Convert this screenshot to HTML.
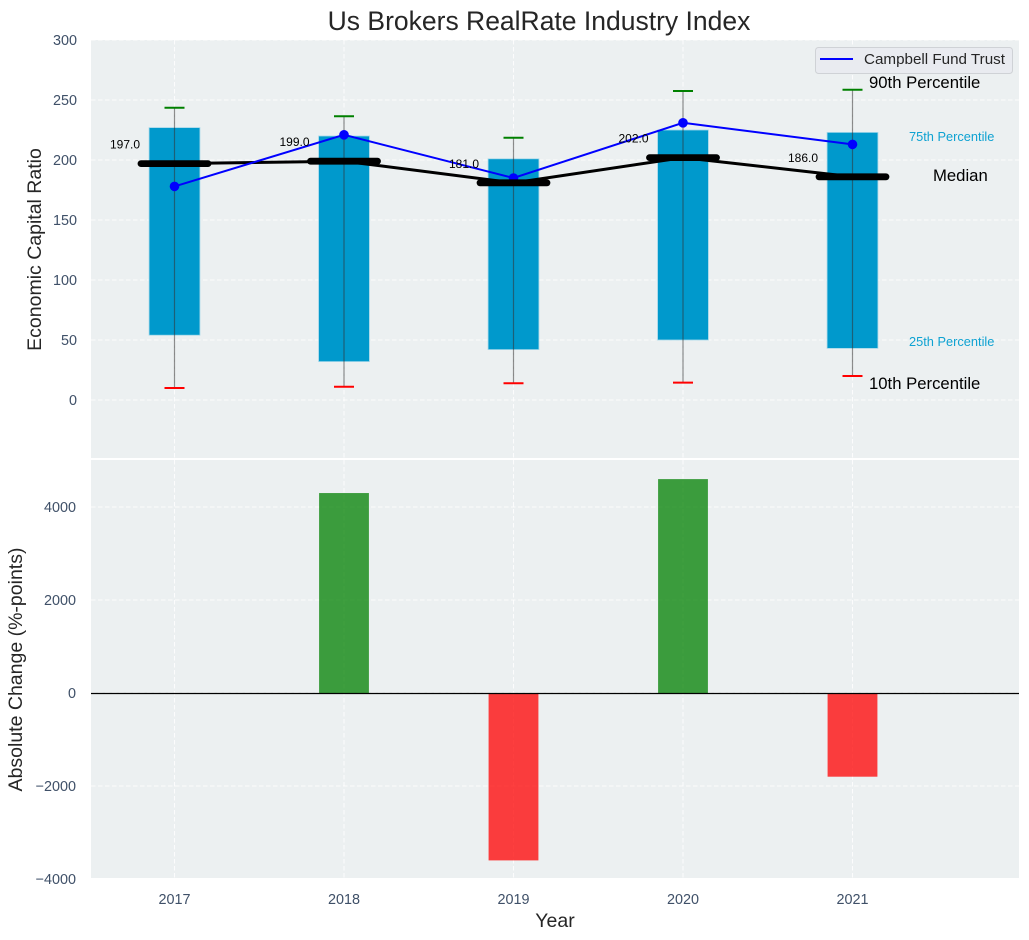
<!DOCTYPE html>
<html lang="en">
<head>
<meta charset="utf-8">
<title>Us Brokers RealRate Industry Index</title>
<style>
html,body{margin:0;padding:0;background:#fff;}
svg{display:block;font-family:"Liberation Sans",sans-serif;}
</style>
</head>
<body>
<svg id="chart" xmlns="http://www.w3.org/2000/svg" width="1029" height="940" viewBox="0 0 1029 940">
<rect x="91" y="40" width="928" height="418" fill="#ecf0f1"/>
<rect x="91" y="460" width="928" height="418" fill="#ecf0f1"/>
<text x="539" y="30" font-size="26.5" text-anchor="middle" fill="#262626">Us Brokers RealRate Industry Index</text>
<text transform="translate(41,249.5) rotate(-90)" font-size="19.5" text-anchor="middle" fill="#262626">Economic Capital Ratio</text>
<text transform="translate(22,669.5) rotate(-90)" font-size="19.5" text-anchor="middle" fill="#262626">Absolute Change (%-points)</text>
<text x="555" y="927" font-size="19.5" text-anchor="middle" fill="#262626">Year</text>
<g id="marks"></g>
<g>
<rect x="815.5" y="47.5" width="197" height="26" rx="3" fill="#e9ebf0" stroke="#cfd2d6" stroke-width="1"/>
<line x1="820" y1="59" x2="853" y2="59" stroke="#0000ff" stroke-width="2"/>
<text x="864" y="64" font-size="15.2" fill="#262626">Campbell Fund Trust</text>
</g>
<text x="869" y="88" font-size="16.7" fill="#000">90th Percentile</text>
<text x="909" y="141" font-size="12.8" fill="#0ea2d2">75th Percentile</text>
<text x="933" y="181" font-size="16.7" fill="#000">Median</text>
<text x="909" y="346" font-size="12.8" fill="#0ea2d2">25th Percentile</text>
<text x="869" y="389" font-size="16.7" fill="#000">10th Percentile</text>
</svg>
<script>
const years = [2017, 2018, 2019, 2020, 2021];
const p90 = [243.5, 236.5, 218.5, 257.5, 258.5];
const p75 = [227, 220, 201, 225, 223];
const median = [197, 199, 181, 202, 186];
const p25 = [54, 32, 42, 50, 43];
const p10 = [10, 11, 14, 14.5, 20];
const campbell = [178, 221, 185, 231, 213];
const absChange = [0, 4300, -3600, 4600, -1800];
const topTicks = [0, 50, 100, 150, 200, 250, 300];
const bottomTicks = [-4000, -2000, 0, 2000, 4000];

const NS = 'http://www.w3.org/2000/svg';
const marks = document.getElementById('marks');
function xScale(v) { return 174.5 + (v - 2017) * 169.5; }
function yTop(v) { return 400 - v * 1.2; }
function yBottom(v) { return 693 - v * 0.0465; }
function make(tag, attrs, text) {
  const n = document.createElementNS(NS, tag);
  for (const k in attrs) n.setAttribute(k, attrs[k]);
  if (text !== undefined) n.textContent = text;
  marks.appendChild(n);
  return n;
}
const gridStyle = { stroke: '#ffffff', 'stroke-width': 1.1, 'stroke-dasharray': '4.5 2.5', opacity: 0.85 };

topTicks.forEach(function (t) {
  const g = make('line', Object.assign({ x1: 91, x2: 1019, y1: yTop(t), y2: yTop(t) }, gridStyle));
  
  
  const l = make('text', { x: 77, y: yTop(t) + 5, 'font-size': 14.4, 'text-anchor': 'end', fill: '#3f5068' }, String(t));
  
  
});
bottomTicks.forEach(function (t) {
  const g = make('line', Object.assign({ x1: 91, x2: 1019, y1: yBottom(t), y2: yBottom(t) }, gridStyle));
  
  
  const l = make('text', { x: 76, y: yBottom(t) + 5, 'font-size': 14.4, 'text-anchor': 'end', fill: '#3f5068' }, String(t).replace('-', '\u2212'));
  
  
});
years.forEach(function (y) {
  const g1 = make('line', Object.assign({ x1: xScale(y), x2: xScale(y), y1: 40, y2: 458 }, gridStyle));
  
  
  const g2 = make('line', Object.assign({ x1: xScale(y), x2: xScale(y), y1: 460, y2: 878 }, gridStyle));
  
  
  const l = make('text', { x: xScale(y), y: 904, 'font-size': 14.4, 'text-anchor': 'middle', fill: '#3f5068' }, String(y));
  
  
});

years.forEach(function (y, i) {
  const bar = make('rect', { x: xScale(y - 0.15), width: xScale(0.3) - xScale(0), y: yTop(p75[i]), height: yTop(p25[i]) - yTop(p75[i]), fill: '#0099cc', stroke: '#a5d8e9', 'stroke-width': 0.8 });
  
  
});

const medianPath = make('polyline', { points: years.map(function (y, i) { return xScale(y) + ',' + yTop(median[i]); }).join(' '), fill: 'none', stroke: '#000', 'stroke-width': 3 });



years.forEach(function (y, i) {
  const w = make('line', { x1: xScale(y), x2: xScale(y), y1: yTop(p90[i]), y2: yTop(p10[i]), stroke: '#333', 'stroke-width': 1.2, opacity: 0.55 });
  
  
  const hi = make('line', { x1: xScale(y) - 10, x2: xScale(y) + 10, y1: yTop(p90[i]), y2: yTop(p90[i]), stroke: '#008000', 'stroke-width': 2 });
  
  
  const lo = make('line', { x1: xScale(y) - 10, x2: xScale(y) + 10, y1: yTop(p10[i]), y2: yTop(p10[i]), stroke: '#ff0000', 'stroke-width': 2 });
  
  
});

const blueLine = make('polyline', { points: years.map(function (y, i) { return xScale(y) + ',' + yTop(campbell[i]); }).join(' '), fill: 'none', stroke: '#0000ff', 'stroke-width': 2 });


years.forEach(function (y, i) {
  const p = make('circle', { cx: xScale(y), cy: yTop(campbell[i]), r: 4.8, fill: '#0000ff' });
  
  
});
years.forEach(function (y, i) {
  const m = make('line', { x1: xScale(y) - 33.5, x2: xScale(y) + 33.5, y1: yTop(median[i]), y2: yTop(median[i]), stroke: '#000', 'stroke-width': 6.8, 'stroke-linecap': 'round' });
  
  
  const t = make('text', { x: xScale(y) - 49.5, y: yTop(median[i]) - 15, 'font-size': 12, 'text-anchor': 'middle', fill: '#000' }, median[i].toFixed(1));
  
  
});

years.forEach(function (y, i) {
  if (absChange[i] === 0) return;
  const v = absChange[i];
  const b = make('rect', { x: xScale(y - 0.147), width: xScale(0.294) - xScale(0), y: yBottom(Math.max(v, 0)), height: Math.abs(yBottom(v) - yBottom(0)), fill: v > 0 ? '#008000' : '#ff0000', opacity: 0.75 });
  
  
});
const zero = make('line', { x1: 91, x2: 1019, y1: yBottom(0) + 0.5, y2: yBottom(0) + 0.5, stroke: '#000', 'stroke-width': 1.2 });


</script>
</body>
</html>
